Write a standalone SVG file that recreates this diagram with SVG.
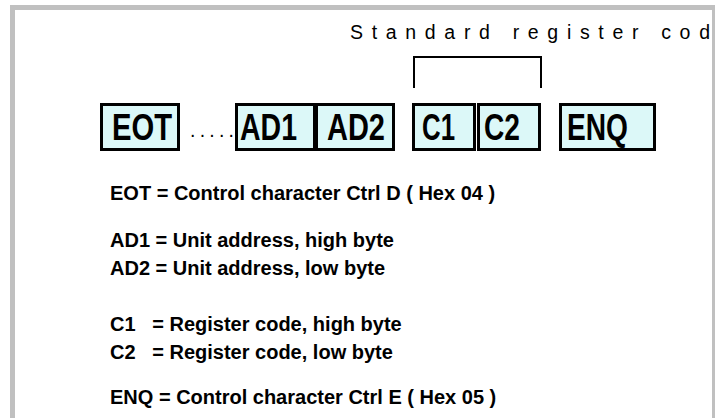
<svg xmlns="http://www.w3.org/2000/svg" width="715" height="418" viewBox="0 0 715 418">
<style>
.box{fill:#dcf8f8;stroke:#000;stroke-width:3}
.lbl{font-family:"Liberation Sans",Arial,sans-serif;font-weight:bold;font-size:37px;fill:#000}
.desc{font-family:"Liberation Sans",Arial,sans-serif;font-weight:bold;font-size:20px;fill:#000;white-space:pre}
.plain{font-family:"Liberation Sans",Arial,sans-serif;font-size:19.5px;fill:#000}
</style>
<rect x="0" y="0" width="715" height="418" fill="#fff"/>
<rect x="12.5" y="7.5" width="702" height="430" fill="#fff" stroke="#c0c0c0" stroke-width="5"/>
<text class="plain" x="350" y="39" textLength="360" lengthAdjust="spacing">Standard register cod</text>
<g id="connectors">
<path d="M414,88 V57 H541 V88" fill="none" stroke="#000" stroke-width="2"/>
</g>
<g id="EOT"><rect class="box" x="101.5" y="104.5" width="77" height="45"/><text class="lbl" x="112" y="140" textLength="60" lengthAdjust="spacingAndGlyphs">EOT</text></g>
<g id="dots"><text class="plain" x="190" y="137" font-size="22" textLength="44" lengthAdjust="spacing">.....</text></g>
<g id="AD1"><rect class="box" x="236.5" y="104.5" width="78" height="45"/><text class="lbl" x="240" y="140" textLength="57" lengthAdjust="spacingAndGlyphs">AD1</text></g>
<g id="AD2"><rect class="box" x="316.5" y="104.5" width="77" height="45"/><text class="lbl" x="327" y="140" textLength="58" lengthAdjust="spacingAndGlyphs">AD2</text></g>
<g id="C1"><rect class="box" x="413.5" y="104.5" width="61" height="45"/><text class="lbl" x="422" y="140" textLength="33" lengthAdjust="spacingAndGlyphs">C1</text></g>
<g id="C2"><rect class="box" x="478.5" y="104.5" width="61" height="45"/><text class="lbl" x="484" y="140" textLength="36" lengthAdjust="spacingAndGlyphs">C2</text></g>
<g id="ENQ"><rect class="box" x="560.5" y="104.5" width="94" height="45"/><text class="lbl" x="567" y="140" textLength="61" lengthAdjust="spacingAndGlyphs">ENQ</text></g>
<g id="legend">
<text class="desc" x="110" y="200">EOT = Control character Ctrl D ( Hex 04 )</text>
<text class="desc" x="110" y="247">AD1 = Unit address, high byte</text>
<text class="desc" x="110" y="275">AD2 = Unit address, low byte</text>
<text class="desc" x="110" y="331">C1   = Register code, high byte</text>
<text class="desc" x="110" y="359">C2   = Register code, low byte</text>
<text class="desc" x="110" y="404">ENQ = Control character Ctrl E ( Hex 05 )</text>
</g>
</svg>
